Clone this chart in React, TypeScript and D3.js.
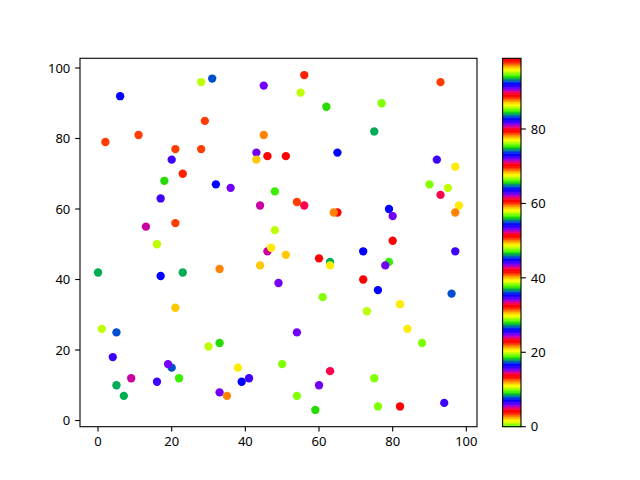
import React from "react";
import * as d3 from "d3";

// Scatter points: x, y and colour value (prism_r colormap, 0..99)
const xValues = [28,31,6,29,11,2,21,28,20,23,18,32,17,13,21,16,45,56,55,62,45,43,43,46,51,65,36,48,44,54,56,65,64,48,46,47,93,77,75,92,97,90,95,93,98,97,79,80,80,0,17,23,33,21,1,5,33,30,4,20,19,22,9,16,5,7,33,35,51,60,63,63,44,49,61,54,38,50,63,41,39,60,54,59,72,97,79,78,72,76,96,82,73,84,88,75,76,82,94];
const yValues = [96,97,92,85,81,79,77,77,74,70,68,67,63,55,56,50,95,98,93,89,81,76,74,75,75,76,66,65,61,62,61,59,59,54,48,49,96,90,82,74,72,67,66,64,61,59,60,58,51,42,41,42,43,32,26,25,22,21,18,15,16,12,12,11,10,7,8,7,47,46,45,44,44,39,35,25,15,16,14,12,11,10,7,3,48,48,45,44,40,37,36,33,31,26,22,12,4,4,5];
const cValues = [
  19.9, 7.9, 45.0, 41.2, 41.2, 41.2, 41.2, 41.2, 44.3, 3.7,
  28.0, 45.0, 44.3, 43.1, 41.2, 19.9, 24.9, 3.7, 19.9, 28.0,
  2.9, 24.9, 40.0, 42.0, 42.0, 45.0, 24.9, 37.7, 43.1, 41.2,
  4.8, 42.0, 2.9, 19.9, 43.1, 39.6, 41.2, 0.6, 8.7, 44.3,
  39.6, 0.6, 19.9, 4.8, 39.6, 2.9, 45.0, 24.9, 42.0, 8.7,
  45.0, 8.7, 2.9, 40.0, 19.9, 7.9, 28.0, 19.9, 44.3, 7.9,
  24.9, 37.7, 43.1, 44.3, 8.7, 8.7, 24.9, 2.9, 40.0, 42.0,
  8.7, 39.6, 40.0, 24.9, 0.6, 24.9, 39.6, 0.6, 4.8, 44.3,
  45.0, 24.9, 0.6, 28.0, 45.0, 44.3, 37.7, 24.9, 42.0, 45.0,
  7.9, 39.6, 19.9, 39.6, 0.6, 0.6, 0.6, 42.0, 44.3
];

const xTicks = [0, 20, 40, 60, 80, 100];
const yTicks = [0, 20, 40, 60, 80, 100];
const cbarTicks = [0, 20, 40, 60, 80];
const cDomain = [0, 99];

// matplotlib "prism" colormap, reversed, 256-entry LUT
function prism(x: number): [number, number, number] {
  const clip = (v: number) => Math.max(0, Math.min(1, v));
  const r = 0.75 * Math.sin((x * 20.9 + 0.25) * Math.PI) + 0.67;
  const g = 0.75 * Math.sin((x * 20.9 - 0.25) * Math.PI) + 0.33;
  const b = -1.1 * Math.sin(x * 20.9 * Math.PI);
  return [clip(r), clip(g), clip(b)];
}
const LUT: string[] = d3.range(256).map((i) => {
  const [r, g, b] = prism(1 - i / 255);
  return d3.rgb(Math.round(r * 255), Math.round(g * 255), Math.round(b * 255)).formatHex();
});
function cmap(c: number): string {
  const t = (c - cDomain[0]) / (cDomain[1] - cDomain[0]);
  const idx = Math.max(0, Math.min(255, Math.floor(t * 256)));
  return LUT[idx];
}

const W = 640, H = 480;
const AX = { left: 80, right: 477, top: 58.3, bottom: 426.7 };
const CB = { left: 502.6, right: 521, top: 58.3, bottom: 426.7 };
const FONT = "'Noto Sans', 'DejaVu Sans', sans-serif";
const FS = 13;
const TICK = 4.86;

export default function App() {
  const [xmin, xmax] = d3.extent(xValues) as [number, number];
  const [ymin, ymax] = d3.extent(yValues) as [number, number];
  const xp = (xmax - xmin) * 0.05, yp = (ymax - ymin) * 0.05;
  const x = d3.scaleLinear().domain([xmin - xp, xmax + xp]).range([AX.left, AX.right]);
  const y = d3.scaleLinear().domain([ymin - yp, ymax + yp]).range([AX.bottom, AX.top]);
  const cy = d3.scaleLinear().domain(cDomain).range([CB.bottom, CB.top]);
  const band = (CB.bottom - CB.top) / 256;

  return (
    <svg width={W} height={H} style={{ position: "absolute", left: 0, top: 0, background: "#fff" }}
      fontFamily={FONT} fontSize={FS}>
      <rect x={0} y={0} width={W} height={H} fill="#fff" />
      {/* points */}
      <g>
        {xValues.map((xv, i) => (
          <circle key={i} cx={x(xv)} cy={y(yValues[i])} r={4.17} fill={cmap(cValues[i])} />
        ))}
      </g>
      {/* axes frame */}
      <rect x={AX.left} y={AX.top} width={AX.right - AX.left} height={AX.bottom - AX.top}
        fill="none" stroke="#000" strokeWidth={1.1} />
      {/* x ticks */}
      {xTicks.map((t) => (
        <g key={"x" + t} transform={`translate(${x(t)},${AX.bottom})`}>
          <line y1={0} y2={TICK} stroke="#000" strokeWidth={1.1} />
          <text y={TICK + 4.86} dy="0.76em" textAnchor="middle" fill="#000">{t}</text>
        </g>
      ))}
      {/* y ticks */}
      {yTicks.map((t) => (
        <g key={"y" + t} transform={`translate(${AX.left},${y(t)})`}>
          <line x1={0} x2={-TICK} stroke="#000" strokeWidth={1.1} />
          <text x={-TICK - 4.86} dy="0.36em" textAnchor="end" fill="#000">{t}</text>
        </g>
      ))}
      {/* colorbar */}
      <g>
        {LUT.map((col, i) => (
          <rect key={i} x={CB.left} width={CB.right - CB.left}
            y={CB.bottom - (i + 1) * band} height={band + 0.5} fill={col} />
        ))}
        <rect x={CB.left} y={CB.top} width={CB.right - CB.left} height={CB.bottom - CB.top}
          fill="none" stroke="#000" strokeWidth={1.1} />
        {cbarTicks.map((t) => (
          <g key={"c" + t} transform={`translate(${CB.right},${cy(t)})`}>
            <line x1={0} x2={TICK} stroke="#000" strokeWidth={1.1} />
            <text x={TICK + 4.86} dy="0.36em" textAnchor="start" fill="#000">{t}</text>
          </g>
        ))}
      </g>
    </svg>
  );
}
